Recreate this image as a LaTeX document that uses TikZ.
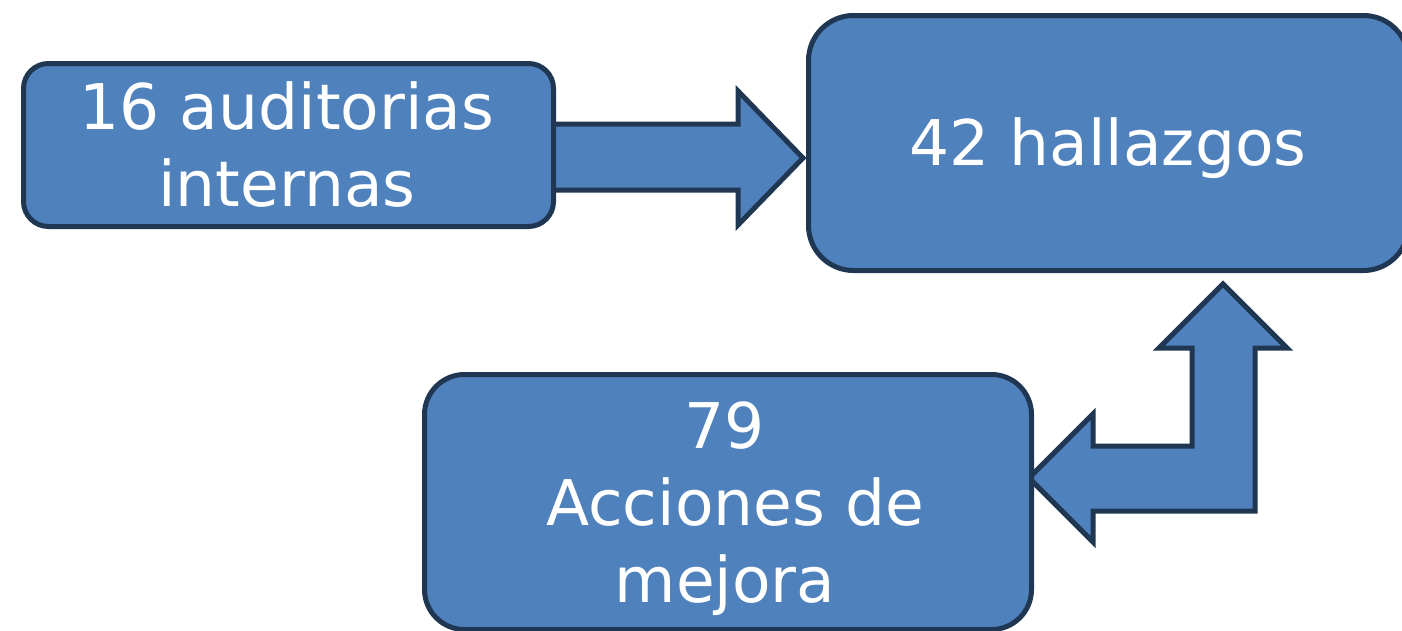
\documentclass[tikz,border=0pt]{standalone}
\usepackage{fontspec}
\setmainfont{DejaVu Sans}
\definecolor{boxfill}{HTML}{4F81BD}
\definecolor{boxline}{HTML}{1F3752}
\begin{document}
\begin{tikzpicture}[x=1pt,y=-1pt,
  shapebox/.style={draw=boxline, fill=boxfill, line width=5pt, inner sep=0pt, anchor=north west},
  boxtext/.style={text=white, font=\fontsize{63}{77}\selectfont, align=center, inner sep=0pt, anchor=base},
  blockarrow/.style={draw=boxline, fill=boxfill, line width=5pt, line join=miter}]
\useasboundingbox (0,0) rectangle (1402,630);
% block arrows (behind the boxes)
\draw[blockarrow] (545,124) -- (738,124) -- (738,91) -- (803,158) -- (738,225) -- (738,190) -- (545,190) -- cycle;
\draw[blockarrow] (1223,284) -- (1287,348) -- (1255,348) -- (1255,511) -- (1093,511) -- (1093,542)
  -- (1029,478) -- (1093,414) -- (1093,446) -- (1192,446) -- (1192,348) -- (1159,348) -- cycle;
% boxes
\node[shapebox, rounded corners=25pt, minimum width=530pt, minimum height=163pt] (a) at (21,61) {};
\node[shapebox, rounded corners=45pt, minimum width=600pt, minimum height=255pt] (b) at (806,13) {};
\node[shapebox, rounded corners=40pt, minimum width=607pt, minimum height=255pt] (c) at (422,372) {};
% texts (anchor base = baseline of the last line)
\node[boxtext] (ta) at (287,206) {16 auditorias\\internas};
\node[boxtext] (tb) at (1108,165) {42 hallazgos};
\node[boxtext] (tc) at (725,602) {79\\\hspace*{20pt}Acciones de\\mejora};
\end{tikzpicture}
\end{document}
